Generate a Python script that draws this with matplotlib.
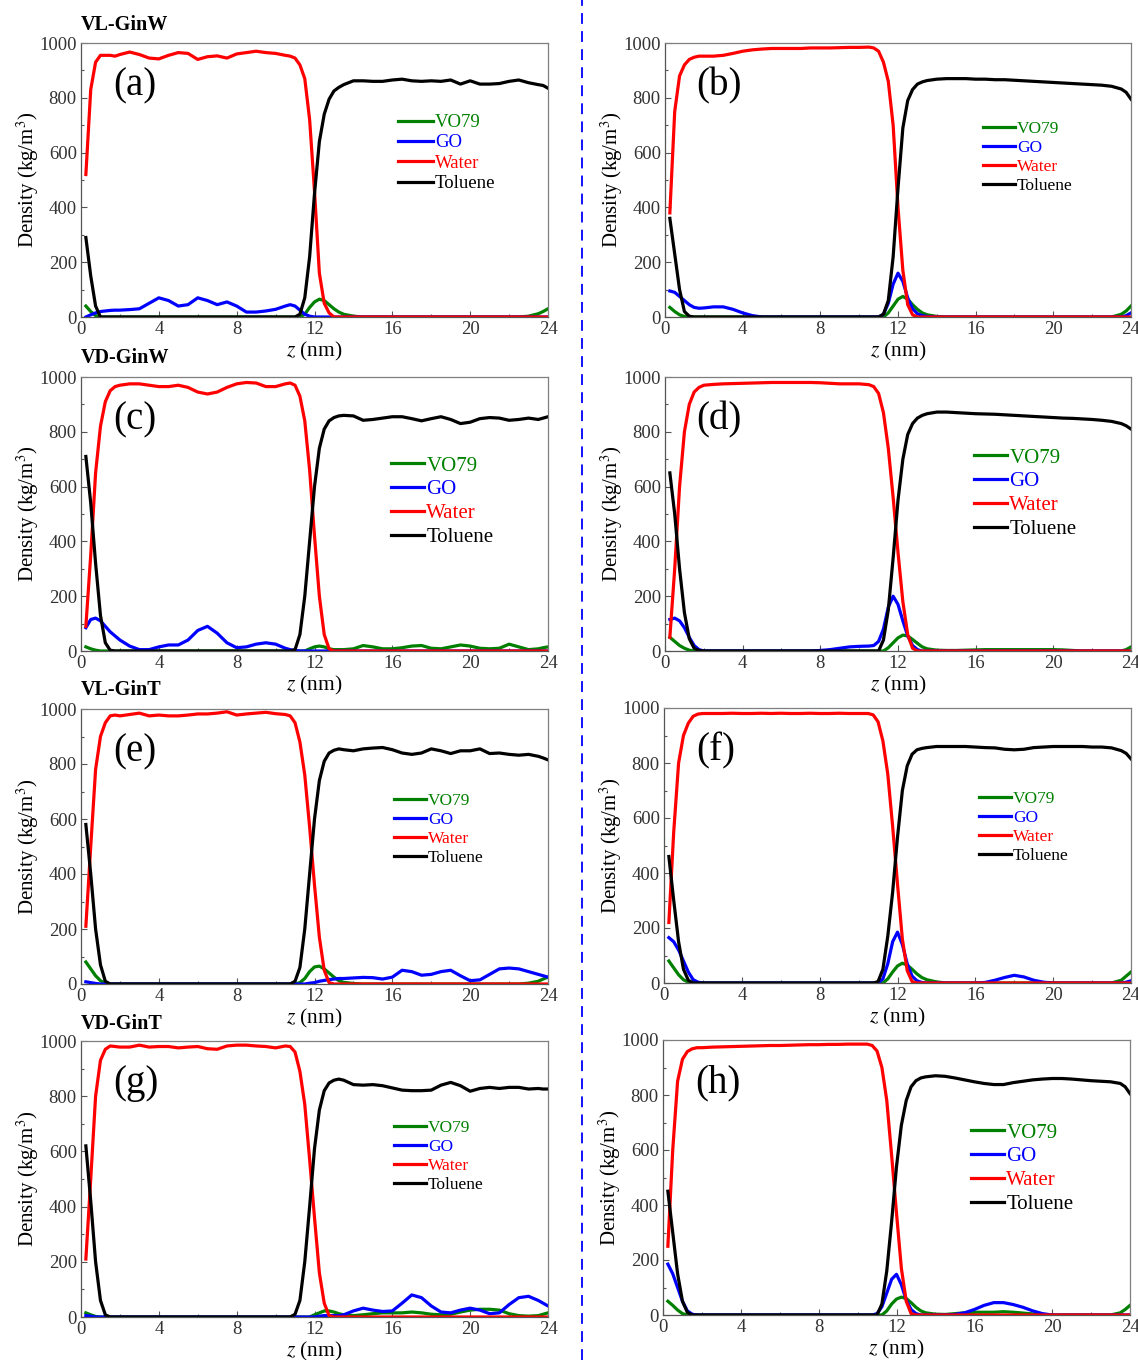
import matplotlib
matplotlib.use('Agg')
import matplotlib.pyplot as plt
from matplotlib.lines import Line2D
from matplotlib.ticker import MultipleLocator

plt.rcParams['font.family'] = ['Liberation Serif', 'DejaVu Serif']
plt.rcParams['mathtext.fontset'] = 'stix'

# z grid (nm) shared by all profiles
Z = [0.25, 0.5, 0.75, 1.0, 1.25, 1.5, 1.75, 2.0,
     2.5, 3.0, 3.5, 4.0, 4.5, 5.0, 5.5, 6.0, 6.5, 7.0, 7.5, 8.0, 8.5, 9.0, 9.5, 10.0, 10.5,
     10.75, 11.0, 11.25, 11.5, 11.75, 12.0, 12.25, 12.5, 12.75, 13.0, 13.25, 13.5,
     14.0, 14.5, 15.0, 15.5, 16.0, 16.5, 17.0, 17.5, 18.0, 18.5, 19.0, 19.5, 20.0, 20.5, 21.0, 21.5, 22.0, 22.5, 23.0, 23.5,
     23.75, 24.0]

# (a)
water_a = [520, 830, 930, 955, 955, 955, 952, 958,
           967, 958, 945, 942, 955, 965, 962, 940, 950, 953, 945, 960, 965, 970, 965, 962, 955,
           952, 945, 920, 870, 720, 460, 160, 50, 15, 0, 0, 0,
           0, 0, 0, 0, 0, 0, 0, 0, 0, 0, 0, 0, 0, 0, 0, 0, 0, 0, 0, 0,
           0, 0]
toluene_a = [290, 150, 40, 0, 0, 0, 0, 0,
             0, 0, 0, 0, 0, 0, 0, 0, 0, 0, 0, 0, 0, 0, 0, 0, 0,
             0, 0, 10, 70, 220, 450, 640, 740, 795, 825, 838, 848,
             862, 862, 860, 860, 865, 868, 862, 860, 862, 860, 865, 850, 862, 850, 850, 852, 860, 865, 855, 848,
             845, 835]
go_a = [0, 8, 15, 20, 22, 24, 25, 25,
        27, 30, 50, 70, 60, 40, 45, 70, 60, 45, 55, 40, 18, 18, 22, 28, 40,
        45, 40, 25, 10, 3, 0, 0, 0, 0, 0, 0, 0,
        0, 0, 0, 0, 0, 0, 0, 0, 0, 0, 0, 0, 0, 0, 0, 0, 0, 0, 0, 0,
        0, 0]
vo79_a = [40, 20, 5, 0, 0, 0, 0, 0,
          0, 0, 0, 0, 0, 0, 0, 0, 0, 0, 0, 0, 0, 0, 0, 0, 0,
          0, 0, 0, 10, 35, 55, 65, 60, 45, 30, 18, 10,
          3, 0, 0, 0, 0, 0, 0, 0, 0, 0, 0, 0, 0, 0, 0, 0, 0, 0, 3, 12,
          20, 30]

# (b)
water_b = [380, 750, 880, 920, 940, 948, 952, 952,
           952, 955, 962, 970, 975, 978, 980, 980, 980, 980, 982, 982, 982, 983, 984, 984, 985,
           982, 970, 930, 860, 700, 400, 170, 45, 8, 0, 0, 0,
           0, 0, 0, 0, 0, 0, 0, 0, 0, 0, 0, 0, 0, 0, 0, 0, 0, 0, 0, 0,
           0, 0]
toluene_b = [360, 230, 100, 20, 3, 0, 0, 0,
             0, 0, 0, 0, 0, 0, 0, 0, 0, 0, 0, 0, 0, 0, 0, 0, 0,
             0, 0, 10, 60, 220, 470, 690, 790, 830, 850, 858, 863,
             868, 870, 870, 870, 868, 868, 866, 866, 864, 862, 860, 858, 856, 854, 852, 850, 848, 846, 842, 832,
             820, 795]
go_b = [95, 90, 75, 60, 45, 35, 32, 33,
        37, 37, 28, 15, 5, 0, 0, 0, 0, 0, 0, 0, 0, 0, 0, 0, 0,
        0, 0, 10, 50, 120, 160, 130, 70, 30, 12, 5, 2,
        0, 0, 0, 0, 0, 0, 0, 0, 0, 0, 0, 0, 0, 0, 0, 0, 0, 0, 0, 0,
        5, 15]
vo79_b = [35, 20, 8, 2, 0, 0, 0, 0,
          0, 0, 0, 0, 0, 0, 0, 0, 0, 0, 0, 0, 0, 0, 0, 0, 0,
          0, 0, 0, 15, 40, 65, 75, 65, 45, 28, 15, 8,
          2, 0, 0, 0, 0, 0, 0, 0, 0, 0, 0, 0, 0, 0, 0, 0, 0, 0, 0, 10,
          22, 40]

# (c)
water_c = [90, 350, 650, 820, 910, 950, 965, 970,
           975, 975, 970, 965, 965, 970, 962, 945, 938, 945, 962, 975, 980, 978, 965, 965, 975,
           978, 970, 930, 840, 660, 420, 200, 60, 8, 0, 0, 0,
           0, 0, 0, 0, 0, 0, 0, 0, 0, 0, 0, 0, 0, 0, 0, 0, 0, 0, 0, 0,
           0, 0]
toluene_c = [710, 540, 320, 130, 30, 3, 0, 0,
             0, 0, 0, 0, 0, 0, 0, 0, 0, 0, 0, 0, 0, 0, 0, 0, 0,
             0, 5, 60, 200, 400, 600, 740, 810, 840, 852, 858, 860,
             858, 842, 845, 850, 855, 855, 848, 840, 848, 855, 845, 830, 835, 848, 852, 850, 842, 845, 850, 845,
             850, 855]
go_c = [85, 115, 120, 110, 90, 70, 55, 40,
        18, 5, 5, 15, 22, 22, 40, 75, 90, 65, 30, 12, 15, 25, 30, 25, 10,
        5, 2, 0, 0, 0, 0, 0, 0, 0, 0, 0, 0,
        0, 0, 0, 0, 0, 0, 0, 0, 0, 0, 0, 0, 0, 0, 0, 0, 0, 0, 0, 0,
        0, 0]
vo79_c = [15, 8, 3, 0, 0, 0, 0, 0,
          0, 0, 0, 0, 0, 0, 0, 0, 0, 0, 0, 0, 0, 0, 0, 0, 0,
          0, 0, 0, 0, 8, 15, 18, 15, 8, 5, 5, 5,
          8, 20, 15, 8, 8, 12, 18, 20, 10, 8, 15, 22, 18, 10, 8, 10, 25, 15, 5, 8,
          12, 15]

# (d)
water_d = [50, 300, 600, 800, 900, 945, 962, 970,
           973, 975, 976, 977, 978, 979, 980, 980, 980, 980, 980, 979, 977, 975, 975, 975, 972,
           965, 940, 870, 740, 560, 360, 180, 60, 10, 0, 0, 0,
           0, 0, 0, 0, 0, 0, 0, 0, 0, 0, 0, 0, 0, 0, 0, 0, 0, 0, 0, 0,
           0, 0]
toluene_d = [650, 500, 300, 140, 45, 10, 2, 0,
             0, 0, 0, 0, 0, 0, 0, 0, 0, 0, 0, 0, 0, 0, 0, 0, 0,
             0, 0, 40, 150, 340, 550, 700, 790, 830, 850, 860, 866,
             872, 872, 870, 868, 866, 865, 864, 862, 860, 858, 856, 854, 852, 850, 849, 847, 845, 842, 838, 830,
             822, 810]
go_d = [115, 120, 110, 85, 50, 20, 5, 0,
        0, 0, 0, 0, 0, 0, 0, 0, 0, 0, 0, 2, 5, 10, 15, 17, 18,
        20, 35, 80, 160, 200, 170, 110, 55, 20, 5, 0, 0,
        0, 0, 0, 0, 0, 0, 0, 0, 0, 0, 0, 0, 0, 0, 0, 0, 0, 0, 0, 0,
        0, 0]
vo79_d = [50, 35, 20, 10, 3, 0, 0, 0,
          0, 0, 0, 0, 0, 0, 0, 0, 0, 0, 0, 0, 0, 0, 0, 0, 0,
          0, 0, 0, 12, 30, 48, 58, 55, 42, 28, 15, 8,
          3, 2, 2, 3, 4, 5, 5, 5, 5, 5, 5, 5, 5, 4, 2, 0, 0, 0, 0, 0,
          5, 15]

# (e)
water_e = [210, 500, 780, 900, 950, 975, 978, 975,
           980, 985, 975, 978, 975, 975, 978, 982, 982, 985, 990, 978, 982, 985, 988, 983, 980,
           975, 950, 880, 760, 570, 360, 170, 50, 5, 0, 0, 0,
           0, 0, 0, 0, 0, 0, 0, 0, 0, 0, 0, 0, 0, 0, 0, 0, 0, 0, 0, 0,
           0, 0]
toluene_e = [580, 400, 200, 70, 10, 0, 0, 0,
             0, 0, 0, 0, 0, 0, 0, 0, 0, 0, 0, 0, 0, 0, 0, 0, 0,
             0, 10, 60, 200, 400, 600, 740, 810, 840, 850, 855, 852,
             848, 855, 858, 860, 852, 840, 835, 840, 855, 848, 838, 848, 848, 855, 838, 840, 835, 832, 835, 828,
             822, 815]
go_e = [8, 5, 2, 0, 0, 0, 0, 0,
        0, 0, 0, 0, 0, 0, 0, 0, 0, 0, 0, 0, 0, 0, 0, 0, 0,
        0, 0, 0, 0, 3, 5, 10, 13, 16, 18, 20, 20,
        22, 24, 23, 18, 25, 50, 45, 32, 35, 45, 50, 30, 12, 15, 35, 55, 58, 55, 45, 35,
        30, 25]
vo79_e = [80, 55, 30, 12, 3, 0, 0, 0,
          0, 0, 0, 0, 0, 0, 0, 0, 0, 0, 0, 0, 0, 0, 0, 0, 0,
          0, 0, 5, 20, 45, 62, 65, 55, 40, 25, 12, 6,
          2, 0, 0, 0, 0, 0, 0, 0, 0, 0, 0, 0, 0, 0, 0, 0, 0, 0, 3, 10,
          18, 25]

# (f)
water_f = [220, 550, 800, 900, 945, 970, 978, 980,
           980, 980, 981, 980, 980, 981, 980, 981, 980, 980, 981, 980, 980, 981, 980, 980, 980,
           975, 950, 880, 760, 570, 360, 160, 45, 5, 0, 0, 0,
           0, 0, 0, 0, 0, 0, 0, 0, 0, 0, 0, 0, 0, 0, 0, 0, 0, 0, 0, 0,
           0, 0]
toluene_f = [460, 300, 150, 50, 10, 0, 0, 0,
             0, 0, 0, 0, 0, 0, 0, 0, 0, 0, 0, 0, 0, 0, 0, 0, 0,
             0, 5, 50, 170, 330, 530, 700, 790, 832, 848, 853, 856,
             860, 860, 860, 860, 858, 856, 855, 850, 848, 850, 856, 858, 860, 860, 860, 860, 858, 858, 855, 845,
             835, 815]
go_f = [165, 150, 120, 80, 40, 12, 3, 0,
        0, 0, 0, 0, 0, 0, 0, 0, 0, 0, 0, 0, 0, 0, 0, 0, 0,
        0, 0, 15, 70, 150, 185, 140, 70, 25, 8, 2, 0,
        0, 0, 0, 0, 0, 2, 10, 20, 28, 22, 10, 3, 0, 0, 0, 0, 0, 0, 0, 0,
        3, 8]
vo79_f = [80, 55, 30, 12, 3, 0, 0, 0,
          0, 0, 0, 0, 0, 0, 0, 0, 0, 0, 0, 0, 0, 0, 0, 0, 0,
          0, 0, 0, 15, 40, 62, 72, 65, 50, 33, 20, 12,
          4, 0, 0, 0, 0, 0, 0, 0, 0, 0, 0, 0, 0, 0, 0, 0, 0, 0, 0, 10,
          25, 40]

# (g)
water_g = [210, 500, 800, 930, 970, 982, 980, 978,
           978, 985, 978, 980, 980, 975, 978, 980, 972, 970, 982, 985, 985, 982, 980, 975, 982,
           980, 960, 890, 770, 570, 360, 160, 50, 5, 0, 0, 0,
           0, 0, 0, 0, 0, 0, 0, 0, 0, 0, 0, 0, 0, 0, 0, 0, 0, 0, 0, 0,
           0, 0]
toluene_g = [620, 420, 200, 60, 8, 0, 0, 0,
             0, 0, 0, 0, 0, 0, 0, 0, 0, 0, 0, 0, 0, 0, 0, 0, 0,
             0, 10, 60, 200, 400, 610, 750, 820, 848, 858, 862, 858,
             842, 840, 842, 838, 830, 822, 820, 820, 822, 840, 850, 838, 818, 828, 832, 828, 832, 832, 826, 828,
             826, 826]
go_g = [5, 3, 0, 0, 0, 0, 0, 0,
        0, 0, 0, 0, 0, 0, 0, 0, 0, 0, 0, 0, 0, 0, 0, 0, 0,
        0, 0, 0, 0, 0, 0, 3, 5, 5, 5, 5, 8,
        22, 32, 25, 20, 22, 50, 80, 70, 40, 18, 15, 25, 32, 25, 12, 15, 45, 70, 75, 60,
        50, 40]
vo79_g = [15, 8, 2, 0, 0, 0, 0, 0,
          0, 0, 0, 0, 0, 0, 0, 0, 0, 0, 0, 0, 0, 0, 0, 0, 0,
          0, 0, 0, 0, 0, 8, 15, 22, 22, 18, 12, 8,
          5, 8, 12, 15, 15, 15, 18, 15, 10, 8, 10, 18, 25, 28, 28, 25, 12, 5, 3, 5,
          10, 15]

# (h)
water_h = [250, 600, 850, 930, 958, 968, 972, 972,
           974, 975, 976, 977, 978, 979, 980, 980, 981, 982, 983, 983, 984, 984, 985, 985, 985,
           980, 960, 900, 780, 580, 370, 170, 50, 5, 0, 0, 0,
           0, 0, 0, 0, 0, 0, 0, 0, 0, 0, 0, 0, 0, 0, 0, 0, 0, 0, 0, 0,
           0, 0]
toluene_h = [450, 300, 150, 50, 10, 0, 0, 0,
             0, 0, 0, 0, 0, 0, 0, 0, 0, 0, 0, 0, 0, 0, 0, 0, 0,
             0, 0, 40, 160, 340, 540, 690, 780, 830, 852, 862, 866,
             870, 868, 862, 855, 848, 842, 838, 838, 845, 850, 855, 858, 860, 860, 858, 855, 852, 850, 848, 842,
             830, 805]
go_h = [185, 150, 100, 50, 15, 3, 0, 0,
        0, 0, 0, 0, 0, 0, 0, 0, 0, 0, 0, 0, 0, 0, 0, 0, 0,
        0, 5, 30, 80, 130, 148, 110, 55, 20, 5, 0, 0,
        0, 0, 2, 8, 20, 35, 45, 45, 38, 28, 15, 5, 0, 0, 0, 0, 0, 0, 0, 0,
        0, 0]
vo79_h = [50, 35, 18, 5, 0, 0, 0, 0,
          0, 0, 0, 0, 0, 0, 0, 0, 0, 0, 0, 0, 0, 0, 0, 0, 0,
          0, 0, 0, 15, 40, 58, 65, 60, 45, 28, 15, 8,
          3, 2, 5, 8, 10, 10, 10, 12, 10, 7, 4, 2, 0, 0, 0, 0, 0, 0, 0, 8,
          20, 35]

labels = ['(a)', '(b)', '(c)', '(d)', '(e)', '(f)', '(g)', '(h)']
row_titles = ['VL-GinW', 'VD-GinW', 'VL-GinT', 'VD-GinT']
series_names = ['VO79', 'GO', 'Water', 'Toluene']
colors = ['#008000', '#0000ff', '#ff0000', '#000000']

panels = [
    (vo79_a, go_a, water_a, toluene_a),
    (vo79_b, go_b, water_b, toluene_b),
    (vo79_c, go_c, water_c, toluene_c),
    (vo79_d, go_d, water_d, toluene_d),
    (vo79_e, go_e, water_e, toluene_e),
    (vo79_f, go_f, water_f, toluene_f),
    (vo79_g, go_g, water_g, toluene_g),
    (vo79_h, go_h, water_h, toluene_h),
]

W, H = 1138, 1360
fig = plt.figure(figsize=(W / 100, H / 100), dpi=100)

# axes boxes in pixels: left, top, right, bottom
boxes = [(81, 43, 548, 317), (665, 43, 1131, 317),
         (81, 377, 548, 651), (665, 377, 1131, 651),
         (81, 709, 548, 984), (664, 708, 1131, 983),
         (81, 1041, 548, 1317), (663, 1040, 1130, 1315)]

# legend: handle x, top y, font size, label spacing, handle length
legs = [(398, 114, 13.5, 0.17, 1.87), (983, 121, 12.5, 0.17, 1.85),
        (391, 456, 15, 0.2, 1.6), (974, 448, 15, 0.2, 1.6),
        (394, 793, 12.5, 0.17, 1.85), (979, 791, 12.5, 0.17, 1.85),
        (394, 1120, 12.5, 0.17, 1.85), (971, 1123, 15, 0.2, 1.6)]

for i, (data, box, lg) in enumerate(zip(panels, boxes, legs)):
    l, t, r, b = box
    ax = fig.add_axes([l / W, 1 - b / H, (r - l) / W, (b - t) / H])
    for y, c, name in zip(data, colors, series_names):
        ax.plot(Z, y, color=c, lw=2.3, label=name)
    ax.set_xlim(0, 24)
    ax.set_ylim(0, 1000)
    ax.xaxis.set_major_locator(MultipleLocator(4))
    ax.xaxis.set_minor_locator(MultipleLocator(2))
    ax.yaxis.set_major_locator(MultipleLocator(200))
    ax.yaxis.set_minor_locator(MultipleLocator(100))
    ax.tick_params(which='both', direction='in', top=False, right=False,
                   labelsize=13.5, colors='#333333', pad=3)
    ax.tick_params(which='major', length=4, width=0.8, color='#555555')
    ax.tick_params(which='minor', length=2.5, width=0.8, color='#555555')
    for sp in ax.spines.values():
        sp.set_color('#7f7f7f')
        sp.set_linewidth(0.9)
    ax.spines['left'].set_color('#555555')
    ax.spines['bottom'].set_color('#555555')
    ax.set_xlabel('$z$ (nm)', fontsize=15.5, labelpad=1)
    ax.set_ylabel('Density (kg/m$^{3}$)', fontsize=15)
    ax.yaxis.set_label_coords(-0.085, 0.5)
    ax.text(0.068, 0.845, labels[i], transform=ax.transAxes, fontsize=28,
            va='center', ha='left')
    hx, ty, fs, sp_, hl = lg
    ax.legend(loc='upper left', bbox_to_anchor=(hx / W, 1 - ty / H),
              bbox_transform=fig.transFigure, frameon=False, fontsize=fs,
              labelcolor='linecolor', handlelength=hl, handletextpad=0.1,
              labelspacing=sp_, borderpad=0, borderaxespad=0)

for k, title in enumerate(row_titles):
    ty = [25, 358, 690, 1024][k]
    fig.text(81 / W, 1 - ty / H, title, fontsize=14.5, fontweight='bold',
             ha='left', va='center')

fig.add_artist(Line2D([582 / W, 582 / W], [0, 1], transform=fig.transFigure,
                      color='#0000ff', lw=1.3, ls=(0, (6, 4))))

fig.savefig('out.png', dpi=100)
